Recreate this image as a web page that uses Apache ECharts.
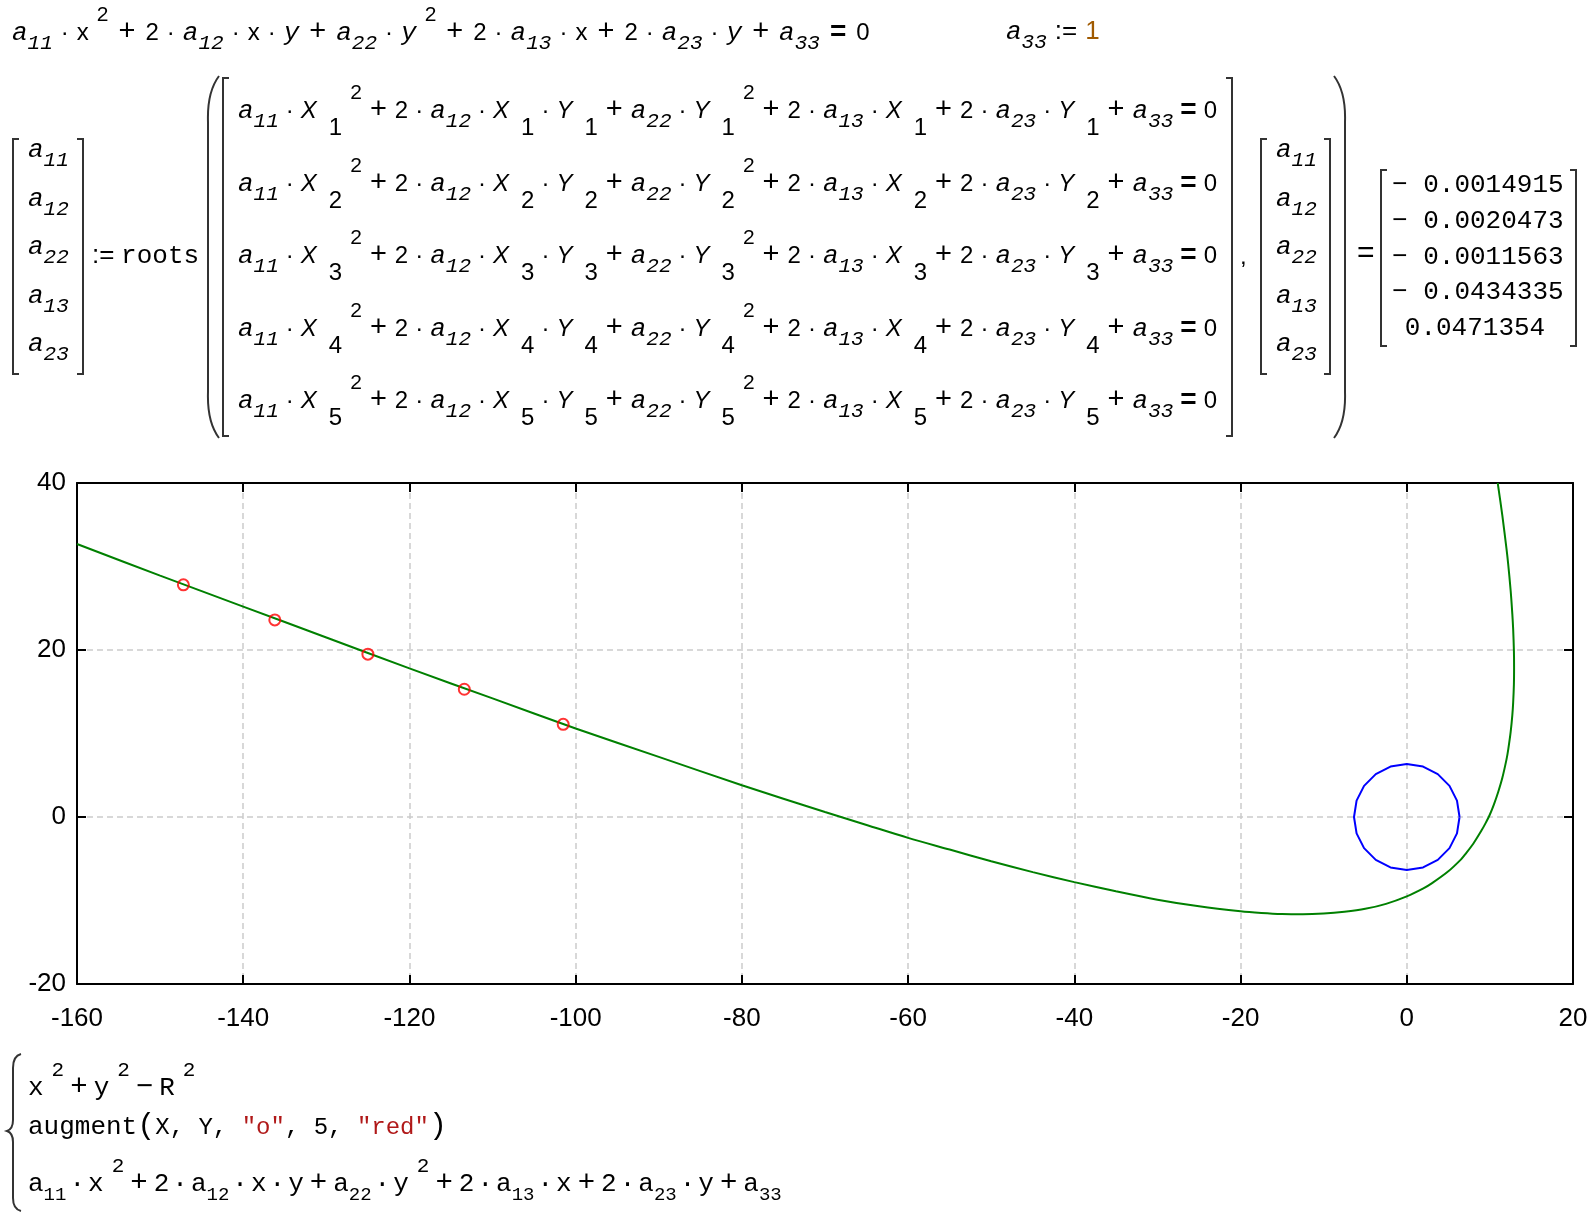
<!DOCTYPE html>
<html>
<head>
<meta charset="utf-8">
<title>conic through five points</title>
<script src="https://cdn.jsdelivr.net/npm/echarts@6/dist/echarts.min.js"></script>
<style>
html, body { margin: 0; padding: 0; background: #fff; }
#page { position: relative; width: 1596px; height: 1212px; overflow: hidden; }
#chart { position: absolute; left: 0; top: 0; width: 1596px; height: 1212px; }
#brk { position: absolute; left: 0; top: 0; pointer-events: none; }
.eq { position: absolute; white-space: nowrap; font-family: 'Liberation Sans', Arial, sans-serif; font-size: 24px; color: #000; line-height: 40px; }
.eq i { font-family: 'Liberation Mono', monospace; font-style: italic; font-size: 26px; }
.eq .I { font-style: italic; }
.eq sub { font-family: 'Liberation Mono', monospace; font-style: italic; font-size: 21px; vertical-align: -9px; line-height: 0; }
.eq sup { font-size: 21px; vertical-align: 19px; line-height: 0; margin-left: 8px; }
.eq .ix { font-size: 24px; position: relative; top: 17px; margin-left: 12px; }
.eq .o { margin: 0 8px; font-size: 29px; }
.eq .d { margin: 0 7px; }
.eq .b { font-weight: bold; font-size: 28px; margin: 0 7px; }
.top .o { margin: 0 10px; }
.top .d { margin: 0 8px; }
.top .b { margin: 0 10px; }
.mono { font-family: 'Liberation Mono', monospace !important; font-size: 26px !important; }
.mono sub { font-style: normal; }
.low .o { margin: 0 6px; }
.low .d { margin: 0 3px; }
.low sub { font-size: 19px; }
.str { color: #b01818; }
</style>
</head>
<body>
<div id="page">
  <div id="chart"></div>
  <svg id="brk" width="1596" height="1212"></svg>
</div>
<script>
// red points X, Y
var ptX = [-147.2, -136.2, -125.0, -113.4, -101.5];
var ptY = [27.8, 23.6, 19.5, 15.3, 11.1];

// green conic, read along the branch
var curveX = [-160, -150, -140, -130, -120, -110, -100, -90, -80, -70,
    -65, -60, -55, -50, -45, -40, -35, -30, -25, -20,
    -17.5, -15, -12.5, -10, -7.5, -5, -2.5, 0,
    2, 3, 5, 6.5, 7, 8, 9, 9.5, 10, 10.5,
    11, 11.5, 12, 12.2, 12.5, 12.7, 12.8, 12.89, 12.91, 12.89,
    12.8, 12.7, 12.5, 12.2, 12, 11.5, 11, 10.95];
var curveY = [32.7, 28.9, 25.2, 21.5, 17.8, 14.2, 10.6, 7.2, 3.8, 0.6,
    -0.95, -2.5, -3.9, -5.3, -6.6, -7.8, -8.9, -9.9, -10.7, -11.3,
    -11.5, -11.63, -11.66, -11.57, -11.35, -11.0, -10.4, -9.5,
    -8.55, -7.95, -6.5, -5.1, -4.5, -3.2, -1.6, -0.7, 0.3, 1.55,
    3.0, 4.7, 6.9, 8.05, 10.2, 12.2, 13.7, 15.9, 17.9, 19.9,
    22.5, 24.3, 27.1, 30.3, 32.1, 36.1, 39.6, 40];

// blue circle x^2+y^2=R^2
var circX = [6.35, 6.04, 5.14, 3.73, 1.96, 0, -1.96, -3.73, -5.14, -6.04, -6.35, -6.04, -5.14, -3.73, -1.96, 0, 1.96, 3.73, 5.14, 6.04, 6.35];
var circY = [0, 1.96, 3.73, 5.14, 6.04, 6.35, 6.04, 5.14, 3.73, 1.96, 0, -1.96, -3.73, -5.14, -6.04, -6.35, -6.04, -5.14, -3.73, -1.96, 0];

// result vector a11 a12 a22 a13 a23
var coefNames = ['11', '12', '22', '13', '23'];
var coefText = ['\u2212 0.0014915', '\u2212 0.0020473', '\u2212 0.0011563', '\u2212 0.0434335', '0.0471354'];

function zip(xs, ys) {
    var out = [];
    for (var i = 0; i < xs.length; i++) out.push([xs[i], ys[i]]);
    return out;
}

// ---------- formulas ----------
var page = document.getElementById('page');
function put(html, left, top, cls) {
    var d = document.createElement('div');
    d.className = 'eq' + (cls ? ' ' + cls : '');
    d.style.left = left + 'px';
    d.style.top = top + 'px';
    d.innerHTML = html;
    page.appendChild(d);
    return d;
}
function A(s) { return '<i>a</i><sub>' + s + '</sub>'; }
var D = '<span class="d">·</span>';
var P = '<span class="o">+</span>';
var SQ = '<sup>2</sup>';
var EQ = '<span class="b">=</span>0';
var yi = '<i>y</i>';

put(A('11') + D + 'x' + SQ + P + '2' + D + A('12') + D + 'x' + D + yi + P + A('22') + D + yi + SQ + P +
    '2' + D + A('13') + D + 'x' + P + '2' + D + A('23') + D + yi + P + A('33') + EQ, 12, 10, 'top');
put(A('33') + '<span class="o" style="font-size:26px">:=</span><span style="color:#a05a00;font-size:26px">1</span>', 1006, 10);

// left vector and roots
for (var k = 0; k < 5; k++) {
    put(A(coefNames[k]), 28, 129 + k * 48.5);
    put(A(coefNames[k]), 1276, 129 + k * 48.5);
}
put('<span style="font-size:26px">:=</span> <span class="mono">roots</span>', 92, 234);

// system of five equations
for (var r = 1; r <= 5; r++) {
    var X = '<span class="I">X</span><span class="ix">' + r + '</span>';
    var Y = '<span class="I">Y</span><span class="ix">' + r + '</span>';
    put(A('11') + D + X + SQ + P + '2' + D + A('12') + D + X + D + Y + P + A('22') + D + Y + SQ + P +
        '2' + D + A('13') + D + X + P + '2' + D + A('23') + D + Y + P + A('33') + EQ,
        238, 88 + (r - 1) * 72.5);
}
put(',', 1240, 236);
put('=', 1357, 232).style.fontSize = '30px';
for (var k = 0; k < 5; k++) {
    var d = put(coefText[k], 1392, 165 + k * 35.8, 'mono');
    d.style.width = '166px';
    d.style.textAlign = 'center';
}

// bottom plot expressions
put('x' + SQ + P + 'y' + SQ + '<span class="o">\u2212</span>R' + SQ, 28, 1068, 'mono low');
put('augment<span style="font-size:30px">(</span><span style="font-size:24px">X, Y, <span class="str">"o"</span>, 5, <span class="str">"red"</span></span><span style="font-size:30px">)</span>', 28, 1106, 'mono low');
put('a<sub>11</sub>' + D + 'x' + SQ + P + '2' + D + 'a<sub>12</sub>' + D + 'x' + D + 'y' + P + 'a<sub>22</sub>' + D + 'y' + SQ + P +
    '2' + D + 'a<sub>13</sub>' + D + 'x' + P + '2' + D + 'a<sub>23</sub>' + D + 'y' + P + 'a<sub>33</sub>', 28, 1164, 'mono low');

// brackets, parens, brace
function lb(x, y0, y1) { return 'M' + (x + 6) + ' ' + y0 + ' H' + x + ' V' + y1 + ' H' + (x + 6); }
function rb(x, y0, y1) { return 'M' + (x - 6) + ' ' + y0 + ' H' + x + ' V' + y1 + ' H' + (x - 6); }
var paths = [
    lb(13, 139, 374), rb(83, 139, 374),
    'M219 76 Q207 92 208 122 L208 392 Q207 422 219 438',
    lb(223, 78, 436), rb(1232, 78, 436),
    lb(1261, 139, 374), rb(1330, 139, 374),
    'M1334 76 Q1346 92 1345 122 L1345 392 Q1346 422 1334 438',
    lb(1381, 170, 346), rb(1576, 170, 346),
    'M21 1054 Q13 1056 13 1068 L13 1120 Q13 1129 7 1131 Q13 1133 13 1142 L13 1198 Q13 1209 21 1211'
];
var svg = '';
for (var p = 0; p < paths.length; p++) {
    svg += '<path d="' + paths[p] + '" fill="none" stroke="#333" stroke-width="2"/>';
}
document.getElementById('brk').innerHTML = svg;

// ---------- chart ----------
var chart = echarts.init(document.getElementById('chart'));
var axisCommon = {
    type: 'value',
    interval: 20,
    axisLine: { onZero: false, lineStyle: { color: '#000', width: 2 } },
    axisTick: { inside: true, length: 9, lineStyle: { color: '#000', width: 2 } }
};
var grid = { color: '#cccccc', type: [6, 4], width: 1.5 };
chart.setOption({
    animation: false,
    grid: { left: 77, right: 23, top: 483, bottom: 228 },
    xAxis: [
        echarts.util.merge({
            min: -160, max: 20, position: 'bottom',
            axisLabel: { fontSize: 26, color: '#000', fontFamily: 'Liberation Sans', margin: 22 },
            splitLine: { show: true, lineStyle: grid }
        }, axisCommon),
        echarts.util.merge({
            min: -160, max: 20, position: 'top',
            axisLabel: { show: false }, splitLine: { show: false }
        }, axisCommon)
    ],
    yAxis: [
        echarts.util.merge({
            min: -20, max: 40, position: 'left',
            axisLabel: { fontSize: 26, color: '#000', fontFamily: 'Liberation Sans', margin: 11 },
            splitLine: { show: true, lineStyle: grid }
        }, axisCommon),
        echarts.util.merge({
            min: -20, max: 40, position: 'right',
            axisLabel: { show: false }, splitLine: { show: false }
        }, axisCommon)
    ],
    series: [
        {
            name: 'circle', type: 'line', data: zip(circX, circY),
            showSymbol: false, lineStyle: { color: '#0000ff', width: 2 }, z: 2
        },
        {
            name: 'conic', type: 'line', data: zip(curveX, curveY), smooth: 0.3,
            showSymbol: false, clip: true, lineStyle: { color: '#008000', width: 2 }, z: 3
        },
        {
            name: 'XY', type: 'scatter', data: zip(ptX, ptY), symbol: 'circle', symbolSize: 11,
            itemStyle: { color: 'rgba(0,0,0,0)', borderColor: '#ff0000', borderWidth: 2 }, z: 4
        }
    ]
});
</script>
</body>
</html>
